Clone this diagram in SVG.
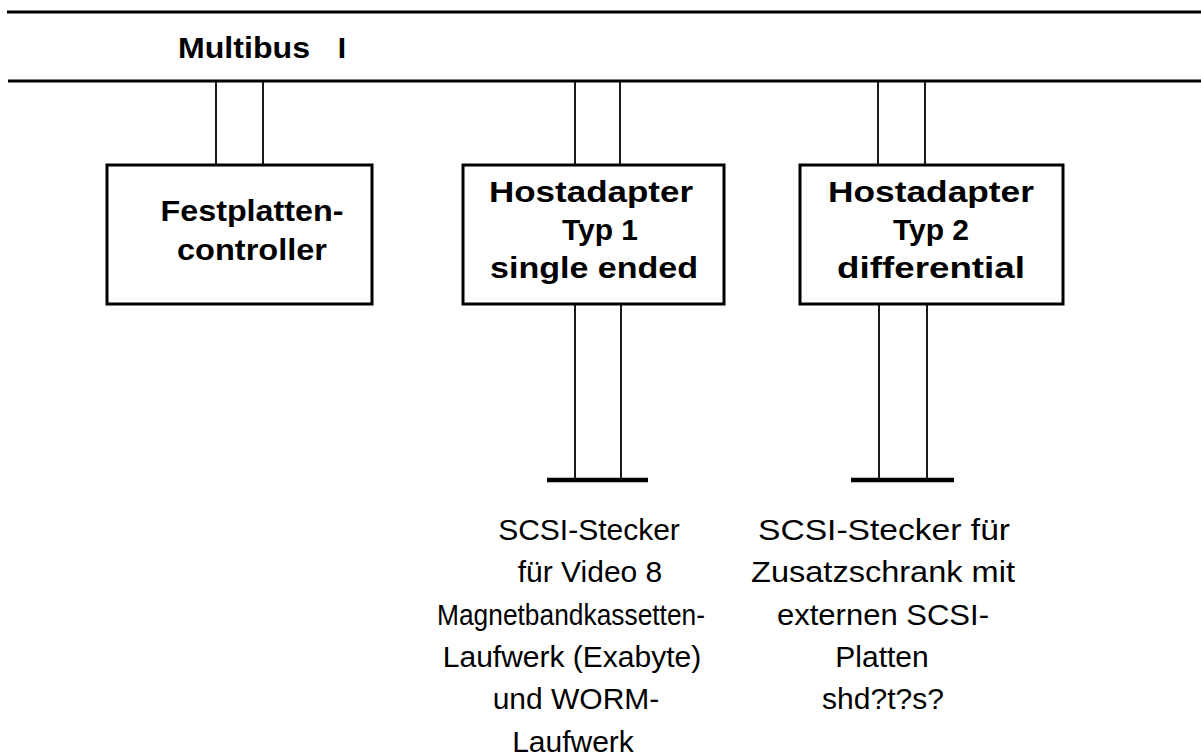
<svg xmlns="http://www.w3.org/2000/svg" width="1201" height="756" viewBox="0 0 1201 756">
<style>
.bus{stroke:#000;stroke-width:3;fill:none}
.box{fill:#fff;stroke:#000;stroke-width:3}
.wire{stroke:#000;stroke-width:1.8;fill:none}
.bar{stroke:#000;stroke-width:4.5;fill:none}
.b{font-family:"Liberation Sans",Arial,sans-serif;font-weight:bold;font-size:30px;fill:#000;text-anchor:middle}
.r{font-family:"Liberation Sans",Arial,sans-serif;font-size:30px;fill:#000;text-anchor:middle}
</style>
<rect width="1201" height="756" fill="#fff"/>
<g id="bus">
<line class="bus" x1="7" y1="12" x2="1201" y2="12"/>
<line class="bus" x1="8" y1="81" x2="1201" y2="81"/>
<text class="b" x="178" y="58" style="text-anchor:start" textLength="132" lengthAdjust="spacingAndGlyphs">Multibus</text>
<text class="b" x="342" y="58">I</text>
</g>
<g id="connectors">
<line class="wire" x1="216" y1="81" x2="216" y2="165"/>
<line class="wire" x1="263" y1="81" x2="263" y2="165"/>
<line class="wire" x1="575" y1="81" x2="575" y2="165"/>
<line class="wire" x1="620" y1="81" x2="620" y2="165"/>
<line class="wire" x1="878" y1="81" x2="878" y2="165"/>
<line class="wire" x1="925" y1="81" x2="925" y2="165"/>
<line class="wire" x1="575" y1="304" x2="575" y2="480"/>
<line class="wire" x1="621" y1="304" x2="621" y2="480"/>
<line class="wire" x1="879" y1="304" x2="879" y2="480"/>
<line class="wire" x1="927" y1="304" x2="927" y2="480"/>
<line class="bar" x1="547" y1="480" x2="648" y2="480"/>
<line class="bar" x1="851" y1="480" x2="954" y2="480"/>
</g>
<g id="festplattencontroller">
<rect class="box" x="107" y="165" width="265" height="139"/>
<text class="b" x="252" y="221" textLength="183" lengthAdjust="spacingAndGlyphs">Festplatten-</text>
<text class="b" x="252" y="260" textLength="150" lengthAdjust="spacingAndGlyphs">controller</text>
</g>
<g id="hostadapter1">
<rect class="box" x="463" y="165" width="261" height="139"/>
<text class="b" x="591" y="202" textLength="204" lengthAdjust="spacingAndGlyphs">Hostadapter</text>
<text class="b" x="600" y="240">Typ 1</text>
<text class="b" x="594" y="278" textLength="208" lengthAdjust="spacingAndGlyphs">single ended</text>
</g>
<g id="hostadapter2">
<rect class="box" x="800" y="165" width="263" height="139"/>
<text class="b" x="931" y="202" textLength="206" lengthAdjust="spacingAndGlyphs">Hostadapter</text>
<text class="b" x="931" y="240">Typ 2</text>
<text class="b" x="931" y="278" textLength="188" lengthAdjust="spacingAndGlyphs">differential</text>
</g>
<g id="stecker1">
<text class="r" x="589" y="540">SCSI-Stecker</text>
<text class="r" x="590" y="582">für Video 8</text>
<text class="r" x="571" y="625" textLength="268" lengthAdjust="spacingAndGlyphs">Magnetbandkassetten-</text>
<text class="r" x="572" y="667">Laufwerk (Exabyte)</text>
<text class="r" x="576" y="709">und WORM-</text>
<text class="r" x="573" y="752">Laufwerk</text>
</g>
<g id="stecker2">
<text class="r" x="884" y="540" textLength="252" lengthAdjust="spacingAndGlyphs">SCSI-Stecker für</text>
<text class="r" x="883" y="582" textLength="264" lengthAdjust="spacingAndGlyphs">Zusatzschrank mit</text>
<text class="r" x="883" y="625" textLength="212" lengthAdjust="spacingAndGlyphs">externen SCSI-</text>
<text class="r" x="882" y="667">Platten</text>
<text class="r" x="883" y="709">shd?t?s?</text>
</g>
</svg>
